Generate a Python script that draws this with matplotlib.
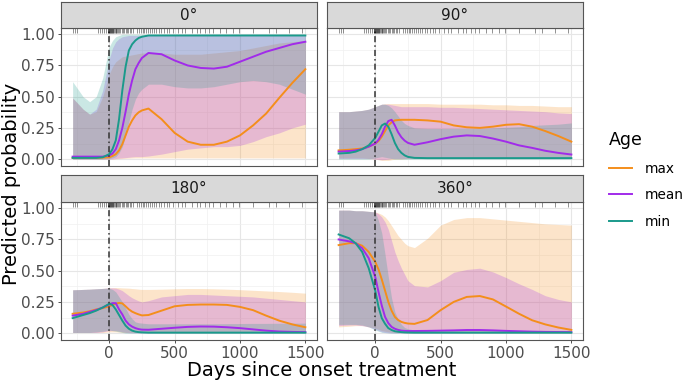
import numpy as np
import matplotlib
matplotlib.use("Agg")
import matplotlib.pyplot as plt
from matplotlib.lines import Line2D
import matplotlib.transforms as mtransforms

# days since onset of treatment (common grid for all curves)
days = [-280, -200, -150, -100, -50, 0, 25, 50, 75, 100, 125, 150, 175, 200, 225, 250, 300,
        400, 500, 600, 700, 800, 900, 1000, 1100, 1200, 1300, 1400, 1500]

groups = ["max", "mean", "min"]
panels = ["0°", "90°", "180°", "360°"]

# ---- 0 degrees
max_fit_0 = [0.01, 0.01, 0.01, 0.01, 0.012, 0.015, 0.025, 0.04, 0.07, 0.12, 0.19, 0.26, 0.31, 0.35, 0.375, 0.39, 0.405, 0.32, 0.21, 0.14, 0.115, 0.115, 0.14, 0.19, 0.27, 0.365, 0.49, 0.61, 0.72]
max_lo_0 = [0.0, 0.0, 0.0, 0.0, 0.0, 0.0, 0.001, 0.002, 0.004, 0.005, 0.007, 0.008, 0.009, 0.01, 0.01, 0.01, 0.01, 0.01, 0.01, 0.01, 0.01, 0.01, 0.01, 0.01, 0.01, 0.01, 0.01, 0.01, 0.01]
max_hi_0 = [0.49, 0.4, 0.36, 0.38, 0.5, 0.68, 0.74, 0.78, 0.8, 0.82, 0.825, 0.83, 0.835, 0.84, 0.845, 0.85, 0.85, 0.85, 0.84, 0.84, 0.84, 0.85, 0.86, 0.87, 0.89, 0.91, 0.93, 0.94, 0.95]
mean_fit_0 = [0.02, 0.02, 0.02, 0.02, 0.02, 0.03, 0.045, 0.08, 0.15, 0.25, 0.38, 0.52, 0.63, 0.72, 0.77, 0.81, 0.85, 0.84, 0.79, 0.75, 0.73, 0.725, 0.74, 0.78, 0.82, 0.86, 0.89, 0.92, 0.94]
mean_lo_0 = [0.0, 0.0, 0.0, 0.0, 0.0, 0.0, 0.002, 0.005, 0.008, 0.01, 0.012, 0.015, 0.018, 0.02, 0.02, 0.02, 0.025, 0.04, 0.06, 0.08, 0.09, 0.1, 0.1, 0.11, 0.14, 0.18, 0.21, 0.25, 0.28]
mean_hi_0 = [0.49, 0.4, 0.36, 0.4, 0.55, 0.8, 0.89, 0.94, 0.965, 0.98, 0.985, 0.99, 0.99, 0.99, 0.99, 0.99, 0.99, 0.99, 0.99, 0.99, 0.99, 0.99, 0.99, 0.99, 0.99, 0.99, 0.99, 0.99, 0.99]
min_fit_0 = [0.01, 0.01, 0.01, 0.01, 0.015, 0.04, 0.08, 0.15, 0.32, 0.55, 0.74, 0.87, 0.92, 0.95, 0.97, 0.98, 0.99, 0.99, 0.99, 0.99, 0.99, 0.99, 0.99, 0.99, 0.99, 0.99, 0.99, 0.99, 0.99]
min_lo_0 = [0.0, 0.0, 0.0, 0.0, 0.0, 0.005, 0.01, 0.02, 0.05, 0.1, 0.19, 0.3, 0.4, 0.48, 0.53, 0.56, 0.6, 0.6, 0.58, 0.57, 0.57, 0.58, 0.6, 0.62, 0.63, 0.62, 0.6, 0.56, 0.52]
min_hi_0 = [0.62, 0.5, 0.46, 0.5, 0.65, 0.9, 0.95, 0.98, 0.99, 1.0, 1.0, 1.0, 1.0, 1.0, 1.0, 1.0, 1.0, 1.0, 1.0, 1.0, 1.0, 1.0, 1.0, 1.0, 1.0, 1.0, 1.0, 1.0, 1.0]

# ---- 90 degrees
max_fit_90 = [0.07, 0.075, 0.08, 0.085, 0.1, 0.125, 0.145, 0.18, 0.225, 0.27, 0.295, 0.31, 0.313, 0.315, 0.315, 0.315, 0.315, 0.31, 0.3, 0.27, 0.255, 0.25, 0.26, 0.275, 0.28, 0.26, 0.225, 0.185, 0.14]
max_lo_90 = [0.01, 0.01, 0.01, 0.01, 0.005, 0.0, -0.005, -0.01, -0.01, -0.01, -0.005, 0.0, 0.0, 0.0, 0.003, 0.005, 0.005, 0.005, 0.005, 0.005, 0.005, 0.005, 0.005, 0.005, 0.005, 0.005, 0.005, 0.005, 0.005]
max_hi_90 = [0.38, 0.38, 0.385, 0.39, 0.4, 0.42, 0.43, 0.44, 0.443, 0.445, 0.445, 0.445, 0.445, 0.445, 0.445, 0.445, 0.445, 0.445, 0.44, 0.44, 0.44, 0.44, 0.435, 0.435, 0.43, 0.43, 0.425, 0.42, 0.42]
mean_fit_90 = [0.06, 0.065, 0.07, 0.08, 0.1, 0.125, 0.155, 0.2, 0.26, 0.305, 0.315, 0.27, 0.215, 0.175, 0.148, 0.13, 0.115, 0.135, 0.16, 0.18, 0.19, 0.185, 0.165, 0.14, 0.11, 0.09, 0.067, 0.05, 0.037]
mean_lo_90 = [0.005, 0.005, 0.005, 0.005, 0.005, 0.0, -0.003, -0.005, -0.003, 0.0, 0.005, 0.005, 0.005, 0.005, 0.005, 0.005, 0.005, 0.005, 0.005, 0.005, 0.005, 0.005, 0.005, 0.005, 0.005, 0.005, 0.005, 0.005, 0.005]
mean_hi_90 = [0.38, 0.38, 0.385, 0.39, 0.4, 0.42, 0.43, 0.44, 0.44, 0.44, 0.435, 0.43, 0.425, 0.42, 0.42, 0.42, 0.42, 0.42, 0.415, 0.415, 0.41, 0.405, 0.4, 0.395, 0.39, 0.385, 0.38, 0.37, 0.365]
min_fit_90 = [0.045, 0.05, 0.06, 0.08, 0.11, 0.17, 0.22, 0.27, 0.285, 0.26, 0.2, 0.13, 0.08, 0.05, 0.03, 0.018, 0.01, 0.008, 0.008, 0.008, 0.008, 0.008, 0.008, 0.008, 0.008, 0.008, 0.008, 0.008, 0.008]
min_lo_90 = [0.0, 0.0, 0.0, 0.0, 0.0, 0.01, 0.015, 0.02, 0.015, 0.01, 0.005, 0.0, 0.0, 0.0, 0.0, 0.0, 0.0, 0.0, 0.0, 0.0, 0.0, 0.0, 0.0, 0.0, 0.0, 0.0, 0.0, 0.0, 0.0]
min_hi_90 = [0.38, 0.38, 0.385, 0.39, 0.4, 0.42, 0.43, 0.44, 0.44, 0.43, 0.41, 0.38, 0.345, 0.31, 0.285, 0.27, 0.25, 0.245, 0.245, 0.245, 0.245, 0.245, 0.25, 0.255, 0.26, 0.27, 0.275, 0.28, 0.29]

# ---- 180 degrees
max_fit_180 = [0.155, 0.165, 0.175, 0.19, 0.2, 0.215, 0.225, 0.235, 0.242, 0.238, 0.215, 0.19, 0.172, 0.16, 0.15, 0.142, 0.145, 0.18, 0.215, 0.226, 0.229, 0.229, 0.226, 0.21, 0.184, 0.14, 0.1, 0.07, 0.047]
max_lo_180 = [0.005, 0.005, 0.005, 0.005, 0.005, 0.01, 0.01, 0.01, 0.008, 0.005, 0.005, 0.005, 0.005, 0.005, 0.005, 0.005, 0.005, 0.005, 0.005, 0.005, 0.005, 0.005, 0.005, 0.005, 0.005, 0.005, 0.005, 0.005, 0.005]
max_hi_180 = [0.347, 0.35, 0.352, 0.355, 0.358, 0.363, 0.364, 0.365, 0.364, 0.362, 0.361, 0.36, 0.357, 0.355, 0.352, 0.35, 0.35, 0.352, 0.355, 0.357, 0.357, 0.355, 0.352, 0.348, 0.343, 0.338, 0.333, 0.327, 0.32]
mean_fit_180 = [0.14, 0.155, 0.17, 0.185, 0.205, 0.23, 0.24, 0.24, 0.19, 0.15, 0.1, 0.07, 0.052, 0.04, 0.032, 0.028, 0.027, 0.035, 0.043, 0.05, 0.053, 0.052, 0.047, 0.04, 0.03, 0.02, 0.013, 0.01, 0.008]
mean_lo_180 = [0.005, 0.005, 0.005, 0.005, 0.01, 0.02, 0.02, 0.02, 0.015, 0.01, 0.006, 0.003, 0.002, 0.002, 0.002, 0.002, 0.002, 0.002, 0.002, 0.002, 0.002, 0.002, 0.002, 0.002, 0.002, 0.002, 0.002, 0.002, 0.002]
mean_hi_180 = [0.347, 0.35, 0.352, 0.355, 0.358, 0.363, 0.362, 0.36, 0.352, 0.34, 0.32, 0.3, 0.283, 0.27, 0.258, 0.25, 0.26, 0.29, 0.3, 0.31, 0.31, 0.305, 0.3, 0.295, 0.29, 0.28, 0.27, 0.26, 0.25]
min_fit_180 = [0.12, 0.145, 0.16, 0.18, 0.205, 0.235, 0.225, 0.19, 0.145, 0.1, 0.06, 0.035, 0.02, 0.012, 0.008, 0.006, 0.004, 0.004, 0.004, 0.004, 0.004, 0.004, 0.004, 0.004, 0.004, 0.004, 0.004, 0.004, 0.004]
min_lo_180 = [0.005, 0.005, 0.005, 0.01, 0.015, 0.025, 0.02, 0.015, 0.01, 0.005, 0.0, 0.0, 0.0, 0.0, 0.0, 0.0, 0.0, 0.0, 0.0, 0.0, 0.0, 0.0, 0.0, 0.0, 0.0, 0.0, 0.0, 0.0, 0.0]
min_hi_180 = [0.347, 0.35, 0.352, 0.355, 0.358, 0.36, 0.35, 0.33, 0.29, 0.25, 0.2, 0.15, 0.115, 0.09, 0.083, 0.08, 0.075, 0.075, 0.075, 0.075, 0.075, 0.075, 0.076, 0.077, 0.078, 0.078, 0.079, 0.08, 0.08]

# ---- 360 degrees
max_fit_360 = [0.705, 0.72, 0.72, 0.7, 0.65, 0.57, 0.51, 0.43, 0.34, 0.25, 0.18, 0.13, 0.105, 0.09, 0.082, 0.077, 0.074, 0.105, 0.184, 0.25, 0.29, 0.297, 0.27, 0.213, 0.155, 0.103, 0.07, 0.045, 0.026]
max_lo_360 = [0.05, 0.055, 0.06, 0.06, 0.05, 0.04, 0.03, 0.02, 0.015, 0.01, 0.007, 0.005, 0.004, 0.004, 0.003, 0.003, 0.003, 0.003, 0.003, 0.003, 0.003, 0.003, 0.003, 0.003, 0.003, 0.003, 0.003, 0.003, 0.003]
max_hi_360 = [0.985, 0.985, 0.98, 0.98, 0.975, 0.97, 0.962, 0.95, 0.93, 0.9, 0.86, 0.82, 0.78, 0.75, 0.72, 0.7, 0.685, 0.76, 0.865, 0.91, 0.925, 0.925, 0.915, 0.905, 0.895, 0.885, 0.875, 0.87, 0.865]
mean_fit_360 = [0.75, 0.735, 0.72, 0.68, 0.6, 0.45, 0.33, 0.22, 0.13, 0.08, 0.05, 0.035, 0.026, 0.02, 0.018, 0.017, 0.017, 0.018, 0.02, 0.022, 0.025, 0.025, 0.022, 0.018, 0.015, 0.012, 0.01, 0.009, 0.008]
mean_lo_360 = [0.06, 0.065, 0.065, 0.06, 0.05, 0.03, 0.02, 0.01, 0.005, 0.003, 0.002, 0.001, 0.001, 0.001, 0.001, 0.001, 0.001, 0.001, 0.001, 0.001, 0.001, 0.001, 0.001, 0.001, 0.001, 0.001, 0.001, 0.001, 0.001]
mean_hi_360 = [0.985, 0.985, 0.98, 0.98, 0.975, 0.97, 0.955, 0.93, 0.89, 0.83, 0.74, 0.65, 0.58, 0.52, 0.47, 0.42, 0.38, 0.37, 0.42, 0.487, 0.51, 0.52, 0.49, 0.445, 0.395, 0.35, 0.3, 0.27, 0.25]
min_fit_360 = [0.79, 0.76, 0.72, 0.65, 0.52, 0.34, 0.21, 0.12, 0.075, 0.04, 0.025, 0.015, 0.011, 0.008, 0.006, 0.005, 0.004, 0.004, 0.004, 0.004, 0.004, 0.004, 0.004, 0.004, 0.004, 0.004, 0.004, 0.004, 0.004]
min_lo_360 = [0.07, 0.07, 0.07, 0.065, 0.05, 0.025, 0.015, 0.006, 0.004, 0.002, 0.0, 0.0, 0.0, 0.0, 0.0, 0.0, 0.0, 0.0, 0.0, 0.0, 0.0, 0.0, 0.0, 0.0, 0.0, 0.0, 0.0, 0.0, 0.0]
min_hi_360 = [0.985, 0.985, 0.98, 0.98, 0.975, 0.97, 0.9, 0.8, 0.63, 0.45, 0.28, 0.17, 0.11, 0.07, 0.045, 0.035, 0.025, 0.02, 0.02, 0.02, 0.02, 0.02, 0.02, 0.02, 0.02, 0.02, 0.02, 0.02, 0.02]

# observed follow-up days (rug on top of each panel)
rug_days = [-277, -265, -245, -88, -73, -58, -38, -23, -12, -8, -4, 0, 3, 6, 10, 14, 18, 22, 27, 32,
            37, 42, 48, 55, 62, 70, 78, 85, 95, 105, 115, 125, 135, 145, 158, 170, 185, 215, 228,
            240, 255, 268, 280, 295, 310, 325, 345, 360, 378, 395, 415, 440, 460, 488, 529, 555,
            580, 630, 668, 693, 731, 764, 794, 844, 895, 945, 996, 1097, 1223, 1273, 1374, 1475]

colors = {"max": "#F48E1B", "mean": "#A12BEA", "min": "#1A9A8B"}

data = {
    "0°": {"max": (max_fit_0, max_lo_0, max_hi_0), "mean": (mean_fit_0, mean_lo_0, mean_hi_0), "min": (min_fit_0, min_lo_0, min_hi_0)},
    "90°": {"max": (max_fit_90, max_lo_90, max_hi_90), "mean": (mean_fit_90, mean_lo_90, mean_hi_90), "min": (min_fit_90, min_lo_90, min_hi_90)},
    "180°": {"max": (max_fit_180, max_lo_180, max_hi_180), "mean": (mean_fit_180, mean_lo_180, mean_hi_180), "min": (min_fit_180, min_lo_180, min_hi_180)},
    "360°": {"max": (max_fit_360, max_lo_360, max_hi_360), "mean": (mean_fit_360, mean_lo_360, mean_hi_360), "min": (min_fit_360, min_lo_360, min_hi_360)},
}

W, H = 685, 383
fig = plt.figure(figsize=(W / 100, H / 100), dpi=100)

def fig_rect(x0, y0, x1, y1):
    return [x0 / W, 1 - y1 / H, (x1 - x0) / W, (y1 - y0) / H]

# pixel boxes: (x0, x1) and (strip top, plot top, plot bottom)
cols = [(61, 317), (327, 583)]
rows = [(2, 28, 166), (175, 202, 340)]

for k, name in enumerate(panels):
    r, c = divmod(k, 2)
    x0, x1 = cols[c]
    st, pt, pb = rows[r]
    ax = fig.add_axes(fig_rect(x0, pt, x1, pb))
    sax = fig.add_axes(fig_rect(x0, st, x1, pt))
    sax.set_facecolor("#D9D9D9")
    sax.set_xticks([])
    sax.set_yticks([])
    for s in sax.spines.values():
        s.set_color("#555555")
        s.set_linewidth(0.8)
    sax.text(0.5, 0.5, name, ha="center", va="center", fontsize=11, color="#1A1A1A")

    x = np.array(days)
    for g in groups:
        fit, lo, hi = data[name][g]
        ax.fill_between(x, lo, hi, color=colors[g], alpha=0.23, lw=0, zorder=2)
    for g in groups:
        fit, lo, hi = data[name][g]
        ax.plot(x, fit, color=colors[g], lw=1.4, zorder=3, solid_joinstyle="round")

    ax.axvline(0, color="#333333", lw=1.1, ls=(0, (4, 2, 1, 2)), zorder=4)
    trans = mtransforms.blended_transform_factory(ax.transData, ax.transAxes)
    ax.vlines(rug_days, 0.963, 1.0, transform=trans, color="black", lw=0.5, alpha=0.6, zorder=5)

    ax.set_xlim(-369, 1589)
    ax.set_ylim(-0.055, 1.05)
    ax.set_xticks([0, 500, 1000, 1500])
    ax.set_xticks([-250, 250, 750, 1250], minor=True)
    ax.set_yticks([0, 0.25, 0.5, 0.75, 1.0])
    ax.set_yticks([0.125, 0.375, 0.625, 0.875], minor=True)
    ax.grid(which="major", color="#E6E6E6", lw=0.8, zorder=0)
    ax.grid(which="minor", color="#F0F0F0", lw=0.5, zorder=0)
    ax.set_axisbelow(True)
    for s in ax.spines.values():
        s.set_color("#555555")
        s.set_linewidth(0.8)
    ax.tick_params(which="major", length=2.5, width=0.6, color="#333333", labelsize=11, labelcolor="#4D4D4D", pad=2)
    ax.tick_params(which="minor", length=0)
    if c == 0:
        ax.set_yticklabels(["0.00", "0.25", "0.50", "0.75", "1.00"])
    else:
        ax.tick_params(axis="y", which="major", length=0)
        ax.set_yticklabels([])
    if r == 0:
        ax.tick_params(axis="x", which="major", length=0)
        ax.set_xticklabels([])

fig.text(12 / W, 1 - 184 / H, "Predicted probability", rotation=90, ha="center", va="center", fontsize=14, color="black")
fig.text(322 / W, 1 - 371 / H, "Days since onset treatment", ha="center", va="center", fontsize=14, color="black")

handles = [Line2D([0], [0], color=colors[g], lw=1.4) for g in groups]
leg = fig.legend(handles, groups, title="Age", loc="upper left", bbox_to_anchor=(609 / W, 1 - 131 / H),
                 frameon=False, fontsize=9.8, title_fontsize=12.5, handlelength=1.7, handletextpad=0.9,
                 labelspacing=0.92, alignment="left", borderaxespad=0, borderpad=0)

fig.savefig("out.png", dpi=100)
